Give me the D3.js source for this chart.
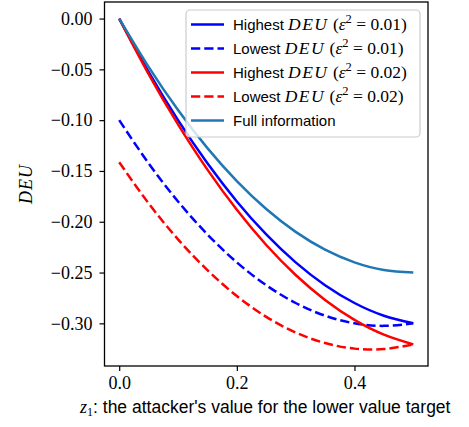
<!DOCTYPE html>
<html><head><meta charset="utf-8">
<script src="https://cdn.jsdelivr.net/npm/d3@7"></script>
<style>body{margin:0;background:#fff}</style>
</head><body>
<svg id="c" width="469" height="427"></svg>
<script>
const zValues = [0, 0.05, 0.1, 0.15, 0.2, 0.25, 0.3, 0.35, 0.4, 0.45, 0.5];
const highest01 = [0, -0.0525, -0.10, -0.1425, -0.18, -0.2125, -0.24, -0.2625, -0.28, -0.2925, -0.30];
const lowest01 = [-0.1, -0.1425, -0.18, -0.2125, -0.24, -0.2625, -0.28, -0.2925, -0.30, -0.3025, -0.30];
const highest02 = [0, -0.0546, -0.1041, -0.1487, -0.1883, -0.2229, -0.2524, -0.2770, -0.2966, -0.3111, -0.3207];
const lowest02 = [-0.1414, -0.1819, -0.2173, -0.2477, -0.2731, -0.2936, -0.3090, -0.3194, -0.3249, -0.3253, -0.3207];
const fullInfo = [0, -0.0475, -0.09, -0.1275, -0.16, -0.1875, -0.21, -0.2275, -0.24, -0.2475, -0.25];
const xTicks = [0.0, 0.2, 0.4];
const yTicks = [0.00, -0.05, -0.10, -0.15, -0.20, -0.25, -0.30];
const eps = ["0.01", "0.01", "0.02", "0.02", null];

const series = [
  {name: "Highest", vals: highest01, color: "#0000ff", dash: false, eps: eps[0]},
  {name: "Lowest", vals: lowest01, color: "#0000ff", dash: true, eps: eps[1]},
  {name: "Highest", vals: highest02, color: "#ff0000", dash: false, eps: eps[2]},
  {name: "Lowest", vals: lowest02, color: "#ff0000", dash: true, eps: eps[3]},
  {name: "Full information", vals: fullInfo, color: "#1f77b4", dash: false, eps: eps[4]}
];

const L = 104.5, T = 2, W = 323.5, H = 364;
const svg = d3.select("#c");
const x = d3.scaleLinear().domain([-0.025, 0.525]).range([L, L + W]);
const y = d3.scaleLinear().domain([-0.342, 0.0163]).range([T + H, T]);
const serif = "'Liberation Serif', 'DejaVu Serif', serif";
const sans = "'Liberation Sans', 'DejaVu Sans', sans-serif";
const DASH = "9.25,4";
const LW = 2.5;

const line = d3.line().x((d, i) => x(zValues[i])).y(d => y(d)).curve(d3.curveNatural);
const plot = svg.append("g");
plot.append("defs").append("clipPath").attr("id", "clip").append("rect")
  .attr("x", L).attr("y", T).attr("width", W).attr("height", H);
series.forEach(s => {
  plot.append("path").attr("d", line(s.vals)).attr("fill", "none")
    .attr("stroke", s.color).attr("stroke-width", LW)
    .attr("stroke-dasharray", s.dash ? DASH : null)
    .attr("clip-path", "url(#clip)");
});

// axes
const xa = svg.append("g").attr("transform", `translate(0,${T + H})`)
  .call(d3.axisBottom(x).tickValues(xTicks).tickFormat(d3.format(".1f")).tickSize(5).tickPadding(5));
const ya = svg.append("g").attr("transform", `translate(${L},0)`)
  .call(d3.axisLeft(y).tickValues(yTicks).tickFormat(d3.format(".2f")).tickSize(5).tickPadding(7));
[xa, ya].forEach(a => {
  a.select(".domain").remove();
  a.selectAll("line").attr("stroke", "#000").attr("stroke-width", 1.2);
  a.selectAll("text").attr("font-family", serif).attr("font-size", 18).attr("fill", "#000");
});
svg.append("rect").attr("x", L).attr("y", T).attr("width", W).attr("height", H)
  .attr("fill", "none").attr("stroke", "#000").attr("stroke-width", 1.3);

// axis labels
svg.append("text").attr("transform", `translate(32,${T + H / 2}) rotate(-90)`)
  .attr("text-anchor", "middle").attr("font-family", serif).attr("font-style", "italic")
  .attr("font-size", 18).attr("letter-spacing", 1).text("DEU");
const xl = svg.append("text").attr("x", L + W / 2 - 1).attr("y", 413).attr("text-anchor", "middle")
  .attr("font-family", sans).attr("font-size", 17.5);
xl.append("tspan").attr("font-family", serif).attr("font-style", "italic").attr("font-size", 18).text("z");
xl.append("tspan").attr("font-family", serif).attr("font-size", 12).attr("dy", 3).text("1");
xl.append("tspan").attr("dy", -3).text(": the attacker's value for the lower value target");

// legend
const lg = svg.append("g");
lg.append("rect").attr("x", 186).attr("y", 10).attr("width", 234).attr("height", 127)
  .attr("rx", 4).attr("fill", "#fff").attr("fill-opacity", 0.8)
  .attr("stroke", "#cccccc").attr("stroke-width", 1.2);
series.forEach((s, i) => {
  const yy = 24.5 + i * 24;
  lg.append("line").attr("x1", 191).attr("x2", 224).attr("y1", yy).attr("y2", yy)
    .attr("stroke", s.color).attr("stroke-width", LW)
    .attr("stroke-dasharray", s.dash ? DASH : null);
  const t = lg.append("text").attr("x", 233).attr("y", yy + 5.5).attr("font-family", sans).attr("font-size", 15);
  if (s.eps) {
    t.append("tspan").text(s.name + " ");
    t.append("tspan").attr("font-family", serif).attr("font-style", "italic").attr("font-size", 17.5)
      .attr("letter-spacing", 1.5).text("DEU");
    t.append("tspan").attr("font-family", serif).attr("font-size", 17.5).text(" (");
    t.append("tspan").attr("font-family", serif).attr("font-style", "italic").attr("font-size", 17.5).text("ε");
    t.append("tspan").attr("font-family", serif).attr("font-size", 12.5).attr("dy", -7).text("2");
    t.append("tspan").attr("font-family", serif).attr("font-size", 17.5).attr("dy", 7).text(" = " + s.eps + ")");
  } else {
    t.text(s.name);
  }
});
</script>
</body></html>
